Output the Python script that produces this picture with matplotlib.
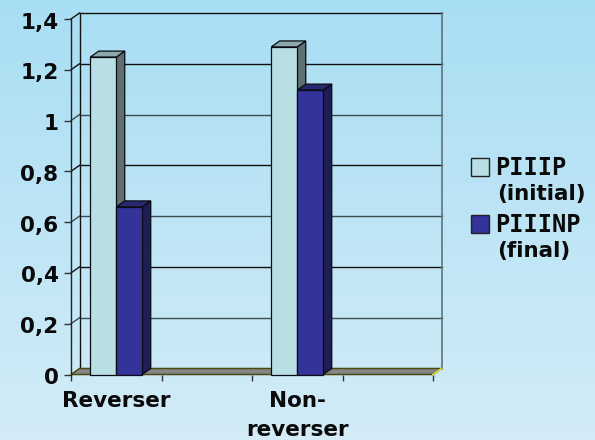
import matplotlib
matplotlib.use('Agg')
import matplotlib.pyplot as plt
import numpy as np
from matplotlib.patches import Polygon, Rectangle
from matplotlib.transforms import ScaledTranslation

categories = ['Reverser', '', 'Non-\nreverser', '']
piiip = [1.25, 0, 1.29, 0]
piiinp = [0.66, 0, 1.12, 0]
y_ticks = [0, 0.2, 0.4, 0.6, 0.8, 1.0, 1.2, 1.4]
y_labels = ['0', '0,2', '0,4', '0,6', '0,8', '1', '1,2', '1,4']

W, H = 595, 440
FONT = 'DejaVu Sans'
FS = 15.5

# front plane of the fake 3d box, in pixels
LEFT, RIGHT, TOP, BOTTOM = 71, 433, 19, 374.5
DX_PX, DY_PX = 8.5, 6


def px_rect(x0, y0, x1, y1):
    return [x0 / W, 1 - y1 / H, (x1 - x0) / W, (y1 - y0) / H]


def draw_bar(ax, x, width, value, front, top, side, dx, dy):
    edge = '#0a0a14'
    ax.add_patch(Polygon([(x + width, 0), (x + width + dx, dy), (x + width + dx, value + dy), (x + width, value)],
                         facecolor=side, edgecolor=edge, lw=0.9, clip_on=False, zorder=3))
    ax.add_patch(Polygon([(x, value), (x + dx, value + dy), (x + width + dx, value + dy), (x + width, value)],
                         facecolor=top, edgecolor=edge, lw=0.9, clip_on=False, zorder=3))
    ax.add_patch(Rectangle((x, 0), width, value, facecolor=front, edgecolor=edge, lw=0.9, clip_on=False, zorder=3))


fig = plt.figure(figsize=(W / 100, H / 100), dpi=100)

# background gradient
bg = fig.add_axes([0, 0, 1, 1], zorder=0)
grad = np.linspace(0, 1, 256).reshape(-1, 1)
top_c = np.array([0xa8, 0xde, 0xf4]) / 255
bot_c = np.array([0xd3, 0xec, 0xf7]) / 255
bg.imshow(top_c + (bot_c - top_c) * grad[:, :, None], aspect='auto', extent=[0, 1, 0, 1])
bg.axis('off')

ax = fig.add_axes(px_rect(LEFT, TOP, RIGHT, BOTTOM), zorder=1)
ax.patch.set_alpha(0)
ax.set_xlim(0, len(categories))
ax.set_ylim(0, 1.4)

dx = DX_PX * len(categories) / (RIGHT - LEFT)
dy = DY_PX * 1.4 / (BOTTOM - TOP)

# floor
ax.add_patch(Polygon([(0, 0), (dx, dy), (4 + dx, dy), (4, 0)], facecolor='#868686', edgecolor='#4a4a10',
                     lw=1.1, clip_on=False, zorder=2))
ax.plot([4, 4 + dx], [0, dy], color='#e8e820', lw=1.1, clip_on=False, zorder=2)

# back wall and grid
for i, v in enumerate(y_ticks[1:]):
    col = '#111111' if i % 2 or v == y_ticks[-1] else '#3c4c50'
    ax.plot([dx, 4 + dx], [v + dy, v + dy], color=col, lw=1.0, clip_on=False, zorder=1)
    ax.plot([0, dx], [v, v + dy], color=col, lw=1.0, clip_on=False, zorder=1)
ax.plot([dx, dx], [dy, 1.4 + dy], color='#111111', lw=1.0, clip_on=False, zorder=1)
ax.plot([4 + dx, 4 + dx], [dy, 1.4 + dy], color='#607478', lw=1.2, clip_on=False, zorder=1)

# bars
width = 26 * len(categories) / (RIGHT - LEFT)
for i in range(len(categories)):
    if piiip[i] == 0:
        continue
    x = i + 0.5 - width
    draw_bar(ax, x, width, piiip[i], '#b8e0e4', '#8ca8a8', '#5f7070', dx, dy)
    draw_bar(ax, x + width, width, piiinp[i], '#333399', '#28286e', '#1e1e55', dx, dy)

for s in ['top', 'right', 'bottom']:
    ax.spines[s].set_visible(False)
ax.spines['left'].set_color('#222222')
ax.spines['left'].set_linewidth(1.0)

ax.set_yticks(y_ticks)
ax.set_yticklabels(y_labels, fontfamily=FONT, fontweight='bold', fontsize=FS, color='#0a0a0a')
ax.tick_params(axis='y', length=5, width=1.0, color='#333333', pad=4)
# labels sit a little under their ticks in the original
shift = ScaledTranslation(0, -1.5 / 100, fig.dpi_scale_trans)
for lab in ax.get_yticklabels():
    lab.set_transform(lab.get_transform() + shift)
ax.set_xticks(range(len(categories) + 1))
ax.set_xticklabels([])
ax.tick_params(axis='x', which='major', length=4.5, width=1.0, color='#333333')
ax.set_xticks(np.arange(len(categories)) + 0.5, minor=True)
ax.set_xticklabels(categories, minor=True, fontfamily=FONT, fontweight='bold', fontsize=FS,
                   color='#0a0a0a', linespacing=1.55)
ax.tick_params(axis='x', which='minor', length=0, pad=12)

# legend
for y0, color, l1, l2 in [(158, '#b8e0e4', 'PIIIP', '(initial)'), (215, '#333399', 'PIIINP', '(final)')]:
    fig.patches.append(Rectangle((471 / W, 1 - (y0 + 17.5) / H), 18 / W, 17.5 / H, transform=fig.transFigure,
                                 facecolor=color, edgecolor='#222222', lw=1.0, zorder=5))
    fig.text(495 / W, 1 - (y0 + 10) / H, l1, fontfamily='DejaVu Sans Mono', fontweight='bold', fontsize=17,
             color='#0a0a0a', va='center', ha='left')
    fig.text(497 / W, 1 - (y0 + 36) / H, l2, fontfamily=FONT, fontweight='bold', fontsize=FS, color='#0a0a0a',
             va='center', ha='left')

fig.savefig('out.png', dpi=100)
